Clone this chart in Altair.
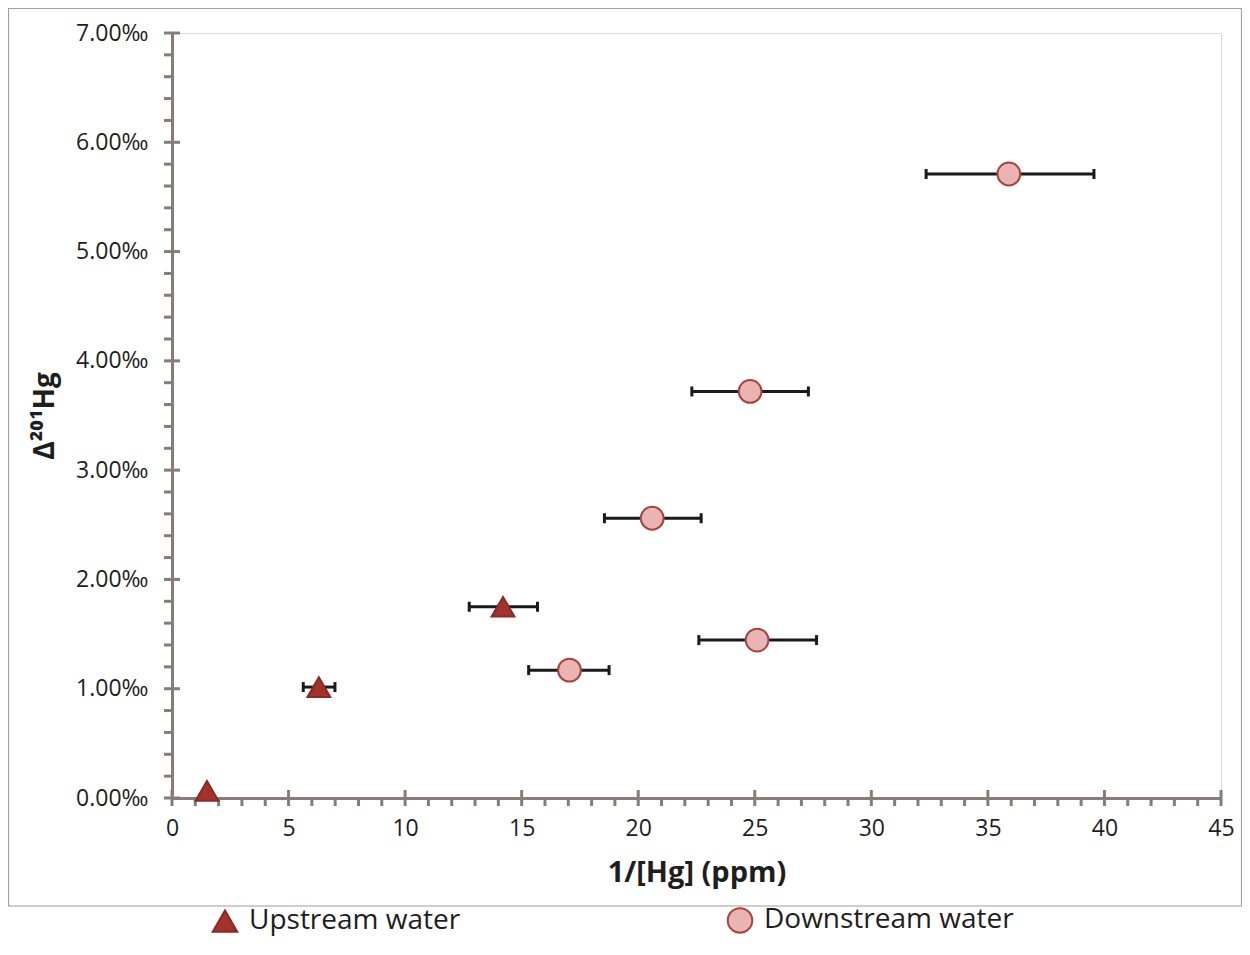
import altair as alt
import pandas as pd

# ---- data ----
up_x = [1.5, 6.3, 14.2]
up_y = [0.065, 1.015, 1.75]
up_lo = [1.5, 5.63, 12.75]
up_hi = [1.5, 6.99, 15.68]

down_x = [17.05, 20.6, 24.8, 25.1, 35.9]
down_y = [1.17, 2.56, 3.72, 1.445, 5.71]
down_lo = [15.3, 18.55, 22.3, 22.6, 32.35]
down_hi = [18.75, 22.7, 27.3, 27.65, 39.55]

series_names = ["Upstream water", "Downstream water"]
x_major = [0, 5, 10, 15, 20, 25, 30, 35, 40, 45]
x_minor = [v for v in range(0, 46) if v % 5 != 0]
y_major = [0, 1, 2, 3, 4, 5, 6, 7]
y_minor = [round(i * 0.2, 1) for i in range(0, 36) if i % 5 != 0]

df = pd.concat([
    pd.DataFrame({"x": up_x, "y": up_y, "lo": up_lo, "hi": up_hi, "series": series_names[0]}),
    pd.DataFrame({"x": down_x, "y": down_y, "lo": down_lo, "hi": down_hi, "series": series_names[1]}),
], ignore_index=True)

AXIS_GRAY = "#877d78"
FONT = "Open Sans"
TXT = "#1e1e1e"
W, H = 1049, 765

xs = alt.Scale(domain=[0, 45], nice=False, zero=False)
ys = alt.Scale(domain=[0, 7], nice=False, zero=False)

# frame around chart (decoration)
frame = alt.Chart(pd.DataFrame({"a": [0]})).mark_rect(
    fill="transparent", stroke="#a0a0a0", strokeWidth=1.2
).encode(
    x=alt.value(-163.5), x2=alt.value(1069.5), y=alt.value(-24.5), y2=alt.value(873)
)

xaxis = alt.Axis(
    values=x_major, title="1/[Hg] (ppm)", grid=False, ticks=False,
    domainColor=AXIS_GRAY, domainWidth=3, labelFlush=False,
    labelFont=FONT, labelFontSize=23, labelColor=TXT, labelPadding=19,
    titleFont=FONT, titleFontSize=29, titleFontWeight="bold", titleColor=TXT,
    titlePadding=18,
)
yaxis = alt.Axis(
    values=y_major, title="Δ²⁰¹Hg", grid=False, ticks=False,
    domainColor=AXIS_GRAY, domainWidth=3, labelFlush=False,
    labelExpr="format(datum.value, '.2f') + '‰'",
    labelFont=FONT, labelFontSize=23, labelColor=TXT, labelPadding=24,
    titleFont=FONT, titleFontSize=28, titleFontWeight="bold", titleColor=TXT,
    titlePadding=16,
)

base_axes = alt.Chart(df).mark_point(opacity=0).encode(
    x=alt.X("x:Q", scale=xs, axis=xaxis),
    y=alt.Y("y:Q", scale=ys, axis=yaxis),
)

x_major_t = alt.Chart(pd.DataFrame({"v": x_major})).mark_tick(
    orient="vertical", size=16, thickness=3, color=AXIS_GRAY, opacity=1
).encode(x=alt.X("v:Q", scale=xs), y=alt.datum(0))

x_minor_t = alt.Chart(pd.DataFrame({"v": x_minor})).mark_tick(
    orient="vertical", size=8, thickness=3, color=AXIS_GRAY, yOffset=4, opacity=1
).encode(x=alt.X("v:Q", scale=xs), y=alt.datum(0))

y_major_t = alt.Chart(pd.DataFrame({"v": y_major})).mark_tick(
    orient="horizontal", size=16, thickness=3, color=AXIS_GRAY, opacity=1
).encode(y=alt.Y("v:Q", scale=ys), x=alt.datum(0))

y_minor_t = alt.Chart(pd.DataFrame({"v": y_minor})).mark_tick(
    orient="horizontal", size=8, thickness=3, color=AXIS_GRAY, xOffset=-4, opacity=1
).encode(y=alt.Y("v:Q", scale=ys), x=alt.datum(0))

err = alt.Chart(df).mark_rule(color="#1a1a1a", strokeWidth=3).encode(
    x=alt.X("lo:Q", scale=xs), x2="hi:Q", y=alt.Y("y:Q", scale=ys)
)

caps = alt.Chart(df).transform_fold(["lo", "hi"], as_=["end", "v"]).mark_tick(
    orient="vertical", size=10, thickness=3, color="#1a1a1a", opacity=1
).encode(x=alt.X("v:Q", scale=xs), y=alt.Y("y:Q", scale=ys))

leg = alt.Legend(
    title=None, orient="none", legendX=39, legendY=873, direction="horizontal",
    labelFont=FONT, labelFontSize=28, labelColor=TXT, labelOffset=10,
    labelLimit=500,
    symbolSize=600, symbolStrokeWidth=2, symbolOpacity=1, columnPadding=262,
)

points = alt.Chart(df).mark_point(filled=True, size=520, strokeWidth=2, opacity=1).encode(
    x=alt.X("x:Q", scale=xs),
    y=alt.Y("y:Q", scale=ys),
    shape=alt.Shape("series:N", scale=alt.Scale(domain=series_names, range=["triangle-up", "circle"]), legend=leg),
    fill=alt.Fill("series:N", scale=alt.Scale(domain=series_names, range=["#a3312c", "#e9b4b1"]), legend=leg),
    stroke=alt.Stroke("series:N", scale=alt.Scale(domain=series_names, range=["#8a2a26", "#a6443f"]), legend=leg),
)

chart = alt.layer(
    frame, base_axes, x_minor_t, y_minor_t, x_major_t, y_major_t, err, caps, points
).properties(
    width=W, height=H,
    autosize=alt.AutoSizeParams(type="none"),
    padding={"left": 164, "top": 25, "right": 21, "bottom": 140},
).configure_view(stroke=None).configure(background="white")

chart.save("out.html", embed_options={"renderer": "svg", "actions": False})
